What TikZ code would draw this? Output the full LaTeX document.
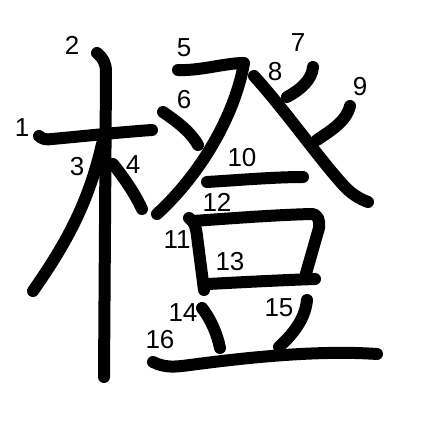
\documentclass[tikz,border=0pt]{standalone}
\usepackage{fontspec}
\setmainfont{Liberation Sans}
\begin{document}
\begin{tikzpicture}[x=1pt,y=-1pt,
  strokeline/.style={line width=12pt,line cap=round,line join=round,black},
  num/.style={font=\fontsize{26}{26}\selectfont,inner sep=0pt}]
\useasboundingbox (0,0) rectangle (447,447);
% 1
\draw[strokeline] (39,136) .. controls (42,139) and (46,140) .. (52,139) .. controls (85,136) and (122,132) .. (152,130);
% 2
\draw[strokeline] (97,53) .. controls (103,58) and (106,63) .. (106,72) -- (104,377);
% 3
\draw[strokeline] (102,144) .. controls (88,205) and (65,245) .. (33,291);
% 4
\draw[strokeline] (113,164) .. controls (124,178) and (134,192) .. (142,209);
% 5
\draw[strokeline] (178,70) .. controls (200,71) and (225,63) .. (244,63) .. controls (236,110) and (205,170) .. (157,214);
% 6
\draw[strokeline] (163,112) .. controls (176,121) and (190,131) .. (198,145);
% 7
\draw[strokeline] (313,67) .. controls (312,80) and (300,90) .. (287,97);
% 8
\draw[strokeline] (254,76) .. controls (285,110) and (320,160) .. (345,187) .. controls (353,195) and (360,199) .. (368,202);
% 9
\draw[strokeline] (350,106) .. controls (346,122) and (330,131) .. (317,140);
% 10
\draw[strokeline] (207,182) .. controls (240,180) and (275,177) .. (303,177);
% 11
\draw[strokeline] (189,218) .. controls (195,222) and (196,228) .. (197,236) -- (204,290);
% 12
\draw[strokeline] (193,221) .. controls (235,218) and (275,215) .. (311,214) .. controls (318,214) and (320,220) .. (319,228) -- (305,277);
% 13
\draw[strokeline] (208,284) .. controls (245,282) and (285,280) .. (315,279);
% 14
\draw[strokeline] (202,308) .. controls (210,318) and (217,333) .. (220,348);
% 15
\draw[strokeline] (307,300) .. controls (305,320) and (292,335) .. (279,347);
% 16
\draw[strokeline] (153,362) .. controls (165,368) and (175,367) .. (190,365) .. controls (250,357) and (320,350) .. (377,354);
% labels
\node[num] (n1) at (22,128) {1};
\node[num] (n2) at (72,45) {2};
\node[num] (n3) at (77,167) {3};
\node[num] (n4) at (133,165) {4};
\node[num] (n5) at (184,48) {5};
\node[num] (n6) at (184,100) {6};
\node[num] (n7) at (298,43) {7};
\node[num] (n8) at (275,72) {8};
\node[num] (n9) at (360,87) {9};
\node[num] (n10) at (242,158) {10};
\node[num] (n11) at (177,240) {11};
\node[num] (n12) at (217,202) {12};
\node[num] (n13) at (230,262) {13};
\node[num] (n14) at (183,313) {14};
\node[num] (n15) at (279,308) {15};
\node[num] (n16) at (160,340) {16};
\end{tikzpicture}
\end{document}
